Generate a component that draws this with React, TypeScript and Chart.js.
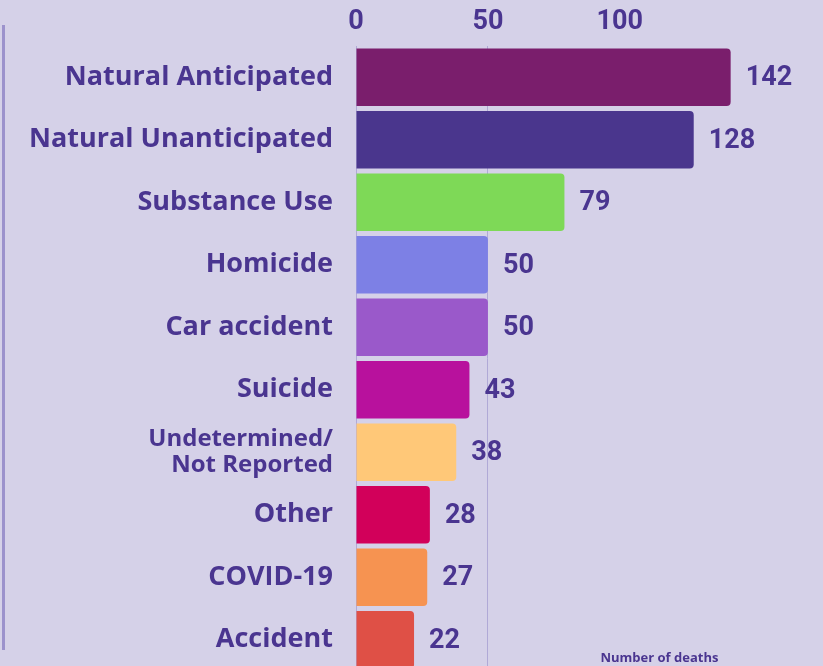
import React, { useEffect, useRef } from "react";
import { Chart, registerables } from "chart.js";

Chart.register(...registerables);

const categories: (string | string[])[] = [
  "Natural Anticipated",
  "Natural Unanticipated",
  "Substance Use",
  "Homicide",
  "Car accident",
  "Suicide",
  ["Undetermined/", "Not Reported"],
  "Other",
  "COVID-19",
  "Accident",
];
const deaths = [142, 128, 79, 50, 50, 43, 38, 28, 27, 22];
const barColors = [
  "#7a1e6c",
  "#4a368d",
  "#7ed957",
  "#7d80e5",
  "#9a59ca",
  "#b8119d",
  "#ffc878",
  "#d2005a",
  "#f69351",
  "#df5046",
];
const xTickValues = [0, 50, 100];
const axisTitle = "Number of deaths";

const BG = "#d5d1e8";
const TEXT = "#4a3590";
const LINE = "#b0a9d6";

const valueLabelPlugin = {
  id: "valueLabels",
  afterDatasetsDraw(chart: any) {
    const ctx = chart.ctx;
    const meta = chart.getDatasetMeta(0);
    ctx.save();
    ctx.font = "bold 27px Roboto";
    ctx.fillStyle = TEXT;
    ctx.textAlign = "left";
    ctx.textBaseline = "middle";
    meta.data.forEach((bar: any, i: number) => {
      ctx.fillText(String(chart.data.datasets[0].data[i]), bar.x + 15, bar.y + 1);
    });
    ctx.font = "bold 13px 'Open Sans'";
    ctx.textAlign = "center";
    ctx.textBaseline = "alphabetic";
    const xs = chart.scales.x;
    ctx.fillText(axisTitle, xs.getPixelForValue(115), chart.height - 18);
    ctx.restore();
  },
};

export default function App() {
  const ref = useRef<HTMLCanvasElement | null>(null);
  useEffect(() => {
    document.body.style.margin = "0";
    document.body.style.overflow = "hidden";
    document.body.style.background = BG;
    const canvas = ref.current!;
    const chart = new Chart(canvas, {
      type: "bar",
      data: {
        labels: categories as any,
        datasets: [
          {
            data: deaths,
            backgroundColor: barColors,
            borderRadius: 4,
            borderSkipped: "start",
            barPercentage: 0.92,
            categoryPercentage: 1,
          },
        ],
      },
      options: {
        indexAxis: "y",
        responsive: false,
        animation: false,
        layout: { padding: { top: 0, bottom: 9, left: 0, right: 0 } },
        plugins: {
          legend: { display: false },
          tooltip: { enabled: false },
          title: { display: false },
        },
        scales: {
          x: {
            position: "top",
            min: 0,
            max: 177,
            afterBuildTicks: (axis: any) => {
              axis.ticks = xTickValues.map((v) => ({ value: v }));
            },
            afterFit: (scale: any) => {
              scale.height = 46;
              scale.paddingLeft = 0;
              scale.paddingRight = 0;
            },
            grid: {
              drawTicks: false,
              color: (c: any) => (c.tick && c.tick.value === 50 ? LINE : "rgba(0,0,0,0)"),
            },
            border: { display: false },
            ticks: {
              padding: 8,
              color: TEXT,
              font: { family: "Roboto", size: 27, weight: "bold" },
            },
          },
          y: {
            afterFit: (scale: any) => {
              scale.width = 356;
              scale.paddingTop = 0;
              scale.paddingBottom = 0;
            },
            grid: { display: false, drawTicks: false },
            border: { display: true, color: LINE, width: 1 },
            ticks: {
              padding: 23,
              color: TEXT,
              font: (c: any) =>
                c.index === 6
                  ? { family: "Open Sans", size: 24, weight: "bold", lineHeight: 1.1 }
                  : { family: "Open Sans", size: 27, weight: "bold" },
            },
          },
        },
      },
      plugins: [valueLabelPlugin],
    } as any);
    return () => chart.destroy();
  }, []);
  return (
    <div style={{ position: "relative", width: 823, height: 680, background: BG }}>
      <div
        style={{
          position: "absolute",
          left: 2,
          top: 25,
          width: 3,
          height: 625,
          background: "#9c92cc",
        }}
      />
      <canvas ref={ref} width={823} height={680} style={{ display: "block" }} />
    </div>
  );
}
